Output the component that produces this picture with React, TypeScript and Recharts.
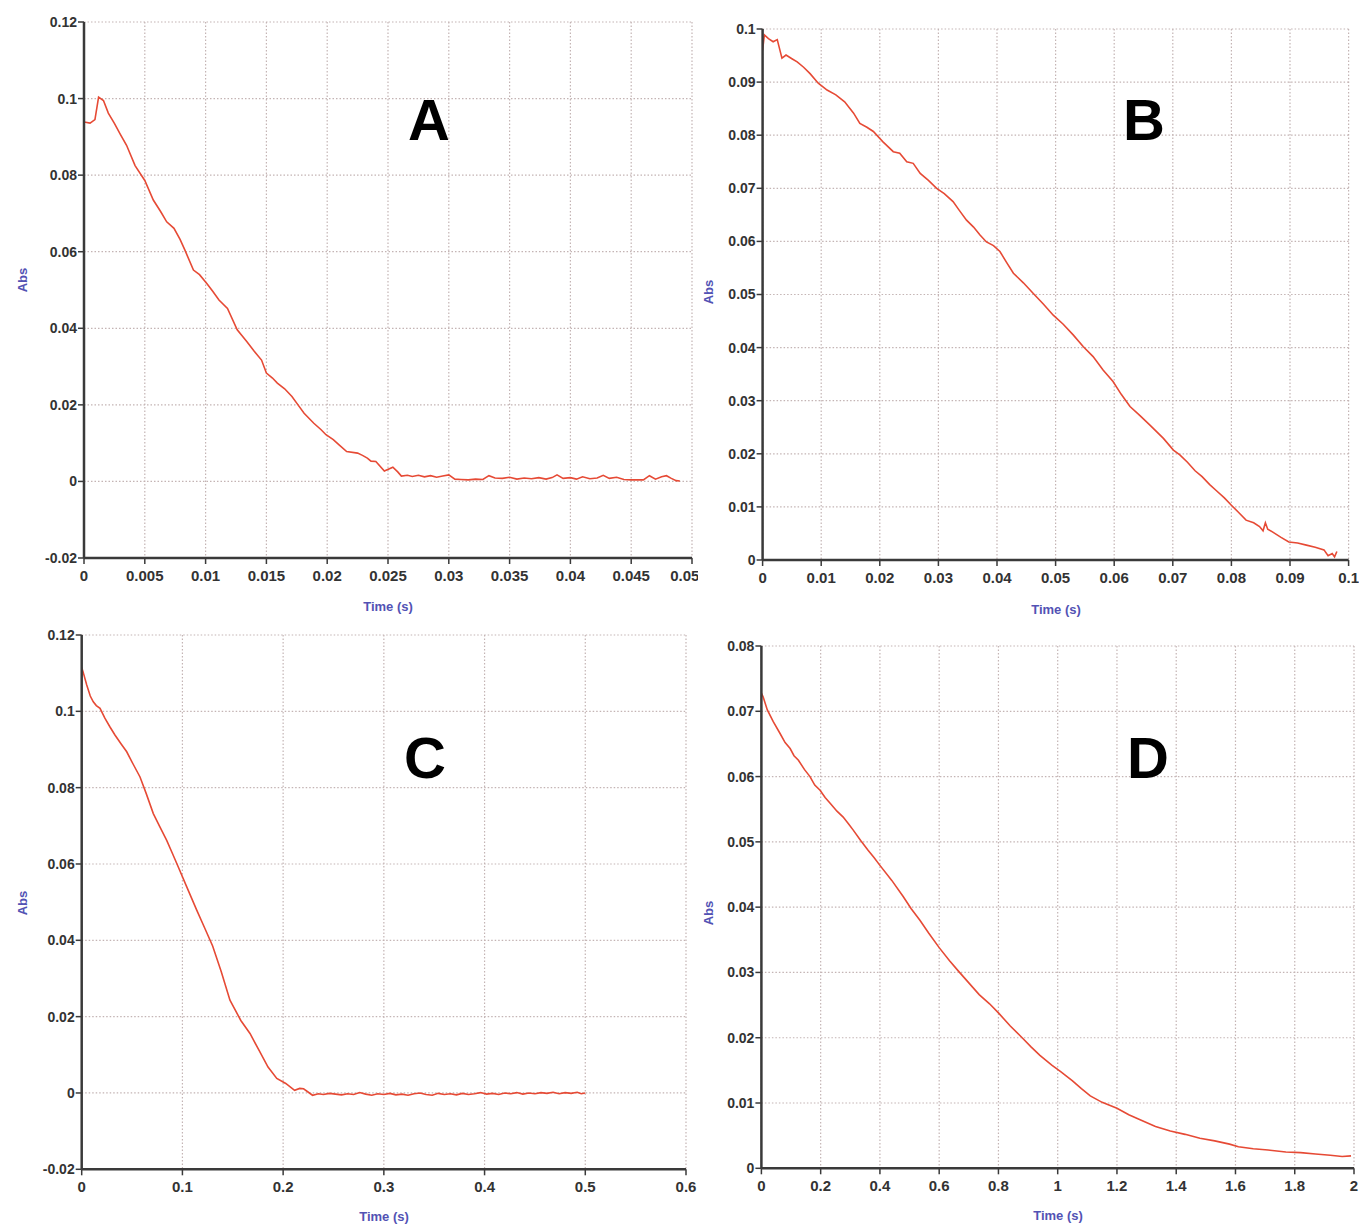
import React from 'react';
import { LineChart, Line, XAxis, YAxis, CartesianGrid } from 'recharts';

// [time (s), absorbance]
const traceA: [number, number][] = [
  [0, 0.0939], [0.0005, 0.0936], [0.0009, 0.0945], [0.0012, 0.1004], [0.0016, 0.0995], [0.002, 0.0962],
  [0.0025, 0.0935], [0.003, 0.0906], [0.0035, 0.0878], [0.0042, 0.0825], [0.005, 0.0786], [0.0057, 0.0735],
  [0.0063, 0.0705], [0.0068, 0.0678], [0.0074, 0.0661], [0.0079, 0.0632], [0.0083, 0.0604], [0.009, 0.0552],
  [0.0095, 0.054], [0.0101, 0.0517], [0.0106, 0.0496], [0.0111, 0.0474], [0.0118, 0.0452], [0.0126, 0.0396],
  [0.0134, 0.0365], [0.014, 0.034], [0.0146, 0.0317], [0.015, 0.0283], [0.0155, 0.027], [0.0159, 0.0257],
  [0.0165, 0.0242], [0.0171, 0.0222], [0.0176, 0.02], [0.0181, 0.0178], [0.0189, 0.0152], [0.0195, 0.0135],
  [0.0199, 0.0122], [0.0205, 0.0109], [0.021, 0.0095], [0.0216, 0.0078], [0.0225, 0.0074], [0.0229, 0.0068],
  [0.0233, 0.0061], [0.0236, 0.0053], [0.024, 0.0052], [0.0247, 0.0027], [0.0254, 0.0037], [0.0258, 0.0025],
  [0.0261, 0.0014], [0.0266, 0.0016], [0.027, 0.0013], [0.0275, 0.0016], [0.028, 0.0012], [0.0285, 0.0015],
  [0.029, 0.0011], [0.0295, 0.0014], [0.03, 0.0017], [0.0305, 0.0006], [0.031, 0.0005], [0.0316, 0.0004],
  [0.0322, 0.0006], [0.0328, 0.0005], [0.0333, 0.0015], [0.0338, 0.0009], [0.0344, 0.0008], [0.035, 0.0011],
  [0.0356, 0.0006], [0.0362, 0.0009], [0.0368, 0.0007], [0.0374, 0.001], [0.038, 0.0006], [0.0385, 0.001],
  [0.0389, 0.0017], [0.0394, 0.0008], [0.04, 0.001], [0.0405, 0.0006], [0.041, 0.0012], [0.0416, 0.0007],
  [0.0422, 0.0009], [0.0427, 0.0016], [0.0432, 0.0008], [0.0438, 0.0011], [0.0444, 0.0005], [0.045, 0.0004],
  [0.0455, 0.0004], [0.046, 0.0004], [0.0465, 0.0015], [0.047, 0.0006], [0.0475, 0.0012], [0.0479, 0.0015],
  [0.0483, 0.0008], [0.0487, 0.0002], [0.049, 0.0001],
];

const traceB: [number, number][] = [
  [0, 0.096], [0.0003, 0.0989], [0.001, 0.0982], [0.0018, 0.0976], [0.0025, 0.098], [0.0033, 0.0945],
  [0.004, 0.0951], [0.005, 0.0944], [0.0059, 0.0938], [0.007, 0.0928], [0.0081, 0.0916], [0.0095, 0.0898],
  [0.011, 0.0885], [0.0125, 0.0876], [0.014, 0.0863], [0.0155, 0.0842], [0.0166, 0.0822], [0.0178, 0.0815],
  [0.0189, 0.0807], [0.0205, 0.0788], [0.0223, 0.0769], [0.0234, 0.0766], [0.0246, 0.075], [0.0257, 0.0747],
  [0.0269, 0.0728], [0.0283, 0.0715], [0.0297, 0.07], [0.031, 0.069], [0.0325, 0.0675], [0.0336, 0.0658],
  [0.0348, 0.064], [0.036, 0.0627], [0.0371, 0.0612], [0.0382, 0.0599], [0.0394, 0.0592], [0.0405, 0.0581],
  [0.0416, 0.0561], [0.0428, 0.054], [0.0445, 0.0522], [0.0462, 0.0502], [0.0479, 0.0482], [0.0496, 0.0461],
  [0.0513, 0.0444], [0.053, 0.0424], [0.0547, 0.0402], [0.0564, 0.0383], [0.0581, 0.0358], [0.0598, 0.0336],
  [0.0612, 0.0312], [0.0627, 0.0289], [0.0644, 0.0272], [0.0661, 0.0254], [0.0684, 0.0229], [0.0701, 0.0207],
  [0.0712, 0.0198], [0.0725, 0.0184], [0.0738, 0.0168], [0.075, 0.0157], [0.0763, 0.0142], [0.0775, 0.013],
  [0.0788, 0.0117], [0.08, 0.0103], [0.0812, 0.009], [0.0825, 0.0075], [0.0838, 0.007], [0.0848, 0.0063],
  [0.0854, 0.0055], [0.0858, 0.007], [0.0862, 0.0058], [0.087, 0.0053], [0.0884, 0.0043], [0.0898, 0.0034],
  [0.0913, 0.0032], [0.0928, 0.0028], [0.0943, 0.0024], [0.0958, 0.0019], [0.0965, 0.0008], [0.0972, 0.0012],
  [0.0976, 0.0006], [0.098, 0.0016],
];

const traceC: [number, number][] = [
  [0, 0.1115], [0.0013, 0.1104], [0.005, 0.1069], [0.0085, 0.104], [0.0115, 0.1025], [0.0145, 0.1015],
  [0.0182, 0.1008], [0.023, 0.0982], [0.0281, 0.0959], [0.033, 0.0938], [0.039, 0.0915], [0.0447, 0.0894],
  [0.051, 0.0862], [0.0579, 0.0828], [0.064, 0.0785], [0.0711, 0.0732], [0.0775, 0.0698], [0.0844, 0.0662],
  [0.09, 0.0628], [0.0959, 0.0592], [0.1043, 0.054], [0.1142, 0.0479], [0.122, 0.0433], [0.13, 0.0385],
  [0.1385, 0.0318], [0.1472, 0.0243], [0.158, 0.019], [0.1671, 0.0156], [0.176, 0.0112], [0.185, 0.0068],
  [0.1937, 0.0038], [0.2026, 0.0025], [0.2114, 0.0007], [0.2165, 0.0012], [0.2203, 0.0011], [0.2292, -0.0006],
  [0.235, -0.0002], [0.24, -0.0004], [0.246, -0.0001], [0.252, -0.0003], [0.258, -0.0005], [0.264, -0.0002],
  [0.27, -0.0004], [0.276, 0.0001], [0.282, -0.0003], [0.288, -0.0006], [0.294, -0.0002], [0.3, -0.0004],
  [0.306, -0.0001], [0.312, -0.0005], [0.318, -0.0003], [0.324, -0.0006], [0.33, -0.0002], [0.336, 0],
  [0.342, -0.0004], [0.348, -0.0006], [0.354, -0.0001], [0.36, -0.0004], [0.366, -0.0002], [0.372, -0.0005],
  [0.378, -0.0001], [0.384, -0.0004], [0.39, -0.0002], [0.396, 0.0001], [0.402, -0.0003], [0.408, -0.0001],
  [0.414, -0.0004], [0.42, 0], [0.426, -0.0002], [0.432, 0.0001], [0.438, -0.0003], [0.444, 0],
  [0.45, -0.0002], [0.456, 0.0001], [0.462, -0.0001], [0.468, 0.0002], [0.474, -0.0002], [0.48, 0.0001],
  [0.486, -0.0001], [0.492, 0.0002], [0.496, -0.0002], [0.5, 0],
];

const traceD: [number, number][] = [
  [0, 0.0728], [0.006, 0.0722], [0.02, 0.0702], [0.04, 0.0684], [0.063, 0.0666], [0.08, 0.0652],
  [0.097, 0.0643], [0.11, 0.0632], [0.125, 0.0625], [0.145, 0.0611], [0.164, 0.06], [0.18, 0.0587],
  [0.198, 0.0579], [0.215, 0.0568], [0.232, 0.0559], [0.255, 0.0547], [0.276, 0.0538], [0.295, 0.0527],
  [0.31, 0.0518], [0.335, 0.0502], [0.36, 0.0487], [0.38, 0.0476], [0.4, 0.0464], [0.44, 0.0441],
  [0.479, 0.0416], [0.505, 0.0398], [0.535, 0.038], [0.565, 0.036], [0.6, 0.0338], [0.635, 0.0318],
  [0.665, 0.0302], [0.7, 0.0284], [0.735, 0.0266], [0.77, 0.0252], [0.8, 0.0238], [0.84, 0.0218],
  [0.88, 0.02], [0.91, 0.0186], [0.94, 0.0173], [0.98, 0.0158], [1.01, 0.0148], [1.05, 0.0134],
  [1.08, 0.0122], [1.11, 0.0111], [1.15, 0.0101], [1.2, 0.0092], [1.24, 0.0082], [1.28, 0.0074],
  [1.33, 0.0064], [1.38, 0.0057], [1.43, 0.0052], [1.48, 0.0046], [1.53, 0.0042], [1.58, 0.0037],
  [1.61, 0.0033], [1.66, 0.003], [1.71, 0.0028], [1.77, 0.0025], [1.82, 0.0024], [1.87, 0.0022],
  [1.92, 0.002], [1.96, 0.0018], [1.99, 0.0019],
];

const timeTicksA = [0, 0.005, 0.01, 0.015, 0.02, 0.025, 0.03, 0.035, 0.04, 0.045, 0.05];
const absTicksA = [-0.02, 0, 0.02, 0.04, 0.06, 0.08, 0.1, 0.12];
const timeTicksB = [0, 0.01, 0.02, 0.03, 0.04, 0.05, 0.06, 0.07, 0.08, 0.09, 0.1];
const absTicksB = [0, 0.01, 0.02, 0.03, 0.04, 0.05, 0.06, 0.07, 0.08, 0.09, 0.1];
const timeTicksC = [0, 0.1, 0.2, 0.3, 0.4, 0.5, 0.6];
const absTicksC = [-0.02, 0, 0.02, 0.04, 0.06, 0.08, 0.1, 0.12];
const timeTicksD = [0, 0.2, 0.4, 0.6, 0.8, 1, 1.2, 1.4, 1.6, 1.8, 2];
const absTicksD = [0, 0.01, 0.02, 0.03, 0.04, 0.05, 0.06, 0.07, 0.08];

const AXIS = '#3a3a3a';
const GRID = '#c4b4b4';
const TRACE = '#e64a35';
const LABEL = '#5252b4';
const FONT = '"Liberation Sans", Arial, sans-serif';

interface PanelProps {
  trace: [number, number][];
  xTicks: number[];
  yTicks: number[];
  box: { left: number; top: number; width: number; height: number };
  margin: { top: number; right: number; left: number; bottom: number };
  xAxisHeight: number;
}

const Panel: React.FC<PanelProps> = ({ trace, xTicks, yTicks, box, margin, xAxisHeight }) => {
  const data = trace.map(([t, v]) => ({ t, v }));
  return (
    <div style={{ position: 'absolute', ...box }}>
      <LineChart width={box.width} height={box.height} data={data} margin={margin}>
        <CartesianGrid stroke={GRID} strokeWidth={1.2} strokeDasharray="1.5 2" />
        <XAxis
          type="number"
          dataKey="t"
          domain={[xTicks[0], xTicks[xTicks.length - 1]]}
          ticks={xTicks}
          allowDataOverflow
          height={xAxisHeight}
          tickFormatter={(v) => String(v)}
          tick={{ fill: '#333', fontSize: 15, fontWeight: 700, fontFamily: FONT }}
          tickSize={6}
          tickMargin={6}
          axisLine={{ stroke: AXIS, strokeWidth: 2.5 }}
          tickLine={{ stroke: AXIS, strokeWidth: 1.5 }}
        />
        <YAxis
          type="number"
          domain={[yTicks[0], yTicks[yTicks.length - 1]]}
          ticks={yTicks}
          allowDataOverflow
          width={60}
          tickFormatter={(v) => String(v)}
          tick={{ fill: '#333', fontSize: 14, fontWeight: 700, fontFamily: FONT }}
          tickSize={6}
          tickMargin={1}
          axisLine={{ stroke: AXIS, strokeWidth: 2.5 }}
          tickLine={{ stroke: AXIS, strokeWidth: 1.5 }}
        />
        <Line type="linear" dataKey="v" stroke={TRACE} strokeWidth={1.6} dot={false} isAnimationActive={false} />
      </LineChart>
    </div>
  );
};

const letterStyle = { fontFamily: '"Liberation Sans Narrow", "Liberation Sans", sans-serif', fontWeight: 700, fontSize: 58, fill: '#000' };
const axisTitleStyle = { fontFamily: FONT, fontWeight: 700, fontSize: 13, fill: LABEL };

export default function App() {
  return (
    <div style={{ position: 'absolute', left: 0, top: 0, width: 1359, height: 1224, overflow: 'hidden', background: '#fff' }}>
      <Panel
        trace={traceA}
        xTicks={timeTicksA}
        yTicks={absTicksA}
        box={{ left: 0, top: 0, width: 698, height: 600 }}
        margin={{ top: 22, right: 6, left: 24, bottom: 0 }}
        xAxisHeight={42}
      />
      <Panel
        trace={traceB}
        xTicks={timeTicksB}
        yTicks={absTicksB}
        box={{ left: 700, top: 0, width: 659, height: 600 }}
        margin={{ top: 29, right: 10.4, left: 2.6, bottom: 0 }}
        xAxisHeight={40}
      />
      <Panel
        trace={traceC}
        xTicks={timeTicksC}
        yTicks={absTicksC}
        box={{ left: 0, top: 612, width: 698, height: 600 }}
        margin={{ top: 23, right: 12, left: 21.7, bottom: 0 }}
        xAxisHeight={42.7}
      />
      <Panel
        trace={traceD}
        xTicks={timeTicksD}
        yTicks={absTicksD}
        box={{ left: 700, top: 612, width: 659, height: 600 }}
        margin={{ top: 34, right: 5, left: 1.4, bottom: 0 }}
        xAxisHeight={43.7}
      />
      <svg width={1359} height={1224} style={{ position: 'absolute', left: 0, top: 0, pointerEvents: 'none' }}>
        <text x={429} y={140} textAnchor="middle" style={letterStyle}>A</text>
        <text x={1144} y={140} textAnchor="middle" style={letterStyle}>B</text>
        <text x={425} y={778} textAnchor="middle" style={letterStyle}>C</text>
        <text x={1148} y={778} textAnchor="middle" style={letterStyle}>D</text>

        <text x={388} y={611} textAnchor="middle" style={axisTitleStyle}>Time (s)</text>
        <text x={1056} y={614} textAnchor="middle" style={axisTitleStyle}>Time (s)</text>
        <text x={384} y={1221} textAnchor="middle" style={axisTitleStyle}>Time (s)</text>
        <text x={1058} y={1220} textAnchor="middle" style={axisTitleStyle}>Time (s)</text>

        <text x={22} y={280} textAnchor="middle" dominantBaseline="central" transform="rotate(-90 22 280)" style={axisTitleStyle}>Abs</text>
        <text x={708} y={292} textAnchor="middle" dominantBaseline="central" transform="rotate(-90 708 292)" style={axisTitleStyle}>Abs</text>
        <text x={22} y={903} textAnchor="middle" dominantBaseline="central" transform="rotate(-90 22 903)" style={axisTitleStyle}>Abs</text>
        <text x={708} y={913} textAnchor="middle" dominantBaseline="central" transform="rotate(-90 708 913)" style={axisTitleStyle}>Abs</text>
      </svg>
    </div>
  );
}
